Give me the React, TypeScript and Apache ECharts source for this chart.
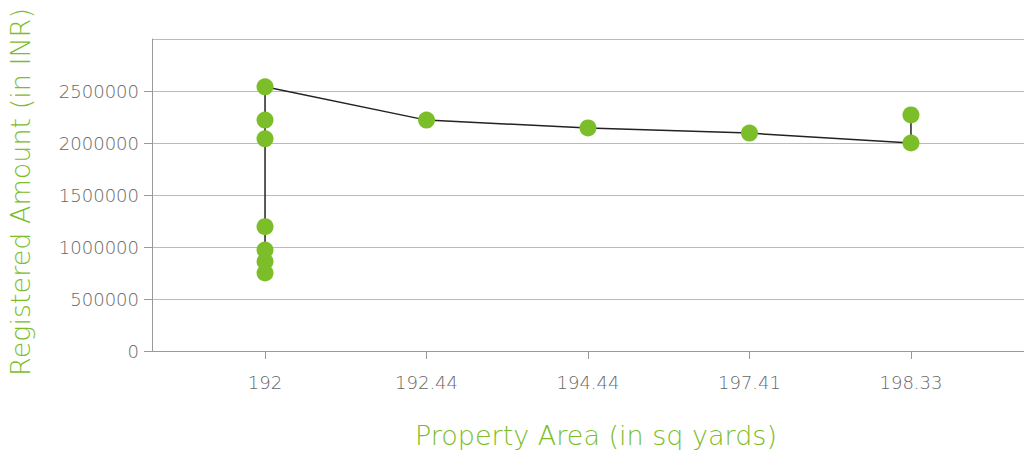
import React, { useEffect, useRef } from "react";
import * as echarts from "echarts";

const categories = ["192", "192.44", "194.44", "197.41", "198.33"];
// each point: index into categories, registered amount
const pointCategory = [0, 0, 0, 0, 0, 0, 0, 1, 2, 3, 4, 4];
const pointValues = [750000, 860000, 970000, 1195000, 2040000, 2220000, 2540000, 2220000, 2145000, 2095000, 2000000, 2270000];
const yTicks = [0, 500000, 1000000, 1500000, 2000000, 2500000, 3000000];

const GREEN = "#7cbd2a";
const GRAY = "#666666";
const FONT = "DejaVu Sans";

export default function App() {
  const ref = useRef<HTMLDivElement>(null);
  useEffect(() => {
    document.body.style.margin = "0";
    const chart = echarts.init(ref.current!, null, { renderer: "svg" });
    const idx = categories.map((_, i) => i);
    chart.setOption({
      animation: false,
      grid: { left: 152, right: 0, top: 39, bottom: 101, containLabel: false, outerBoundsMode: "none" },
      xAxis: {
        type: "value",
        min: -0.7,
        max: 4.7,
        splitLine: { show: false },
        axisLine: { show: true, onZero: false, lineStyle: { color: "#999", width: 1 } },
        axisTick: { show: true, customValues: idx, length: 8, lineStyle: { color: "#999" } },
        axisLabel: {
          customValues: idx,
          formatter: (v: number) => categories[Math.round(v)] ?? "",
          color: GRAY,
          fontSize: 18,
          fontFamily: FONT,
          fontWeight: 300,
          margin: 22,
        },
        name: "Property Area (in sq yards)",
        nameLocation: "middle",
        nameGap: 71,
        nameTextStyle: { color: GREEN, fontSize: 27, fontFamily: FONT, fontWeight: 300, padding: [0, 0, 0, 16] },
      },
      yAxis: {
        type: "value",
        min: yTicks[0],
        max: yTicks[yTicks.length - 1],
        interval: yTicks[1] - yTicks[0],
        axisLine: { show: true, onZero: false, lineStyle: { color: "#999", width: 1 } },
        axisTick: { show: true, length: 8, lineStyle: { color: "#999" } },
        splitLine: { show: true, lineStyle: { color: "#bbbbbb", width: 1 } },
        axisLabel: {
          showMaxLabel: false,
          formatter: (v: number) => String(v),
          color: GRAY,
          fontSize: 18,
          fontFamily: FONT,
          fontWeight: 300,
          margin: 13,
        },
        name: "Registered Amount (in INR)",
        nameLocation: "middle",
        nameGap: 118,
        nameTextStyle: { color: GREEN, fontSize: 27, fontFamily: FONT, fontWeight: 300, padding: [0, 0, 0, 6] },
      },
      series: [
        {
          type: "line",
          data: pointValues.map((v, i) => [pointCategory[i], v]),
          symbol: "circle",
          symbolSize: 17,
          itemStyle: { color: GREEN, borderWidth: 0 },
          lineStyle: { color: "#222", width: 1.5 },
          z: 3,
        },
      ],
    });
    return () => chart.dispose();
  }, []);
  return <div ref={ref} style={{ width: 1024, height: 452, position: "absolute", left: 0, top: 0 }} />;
}
